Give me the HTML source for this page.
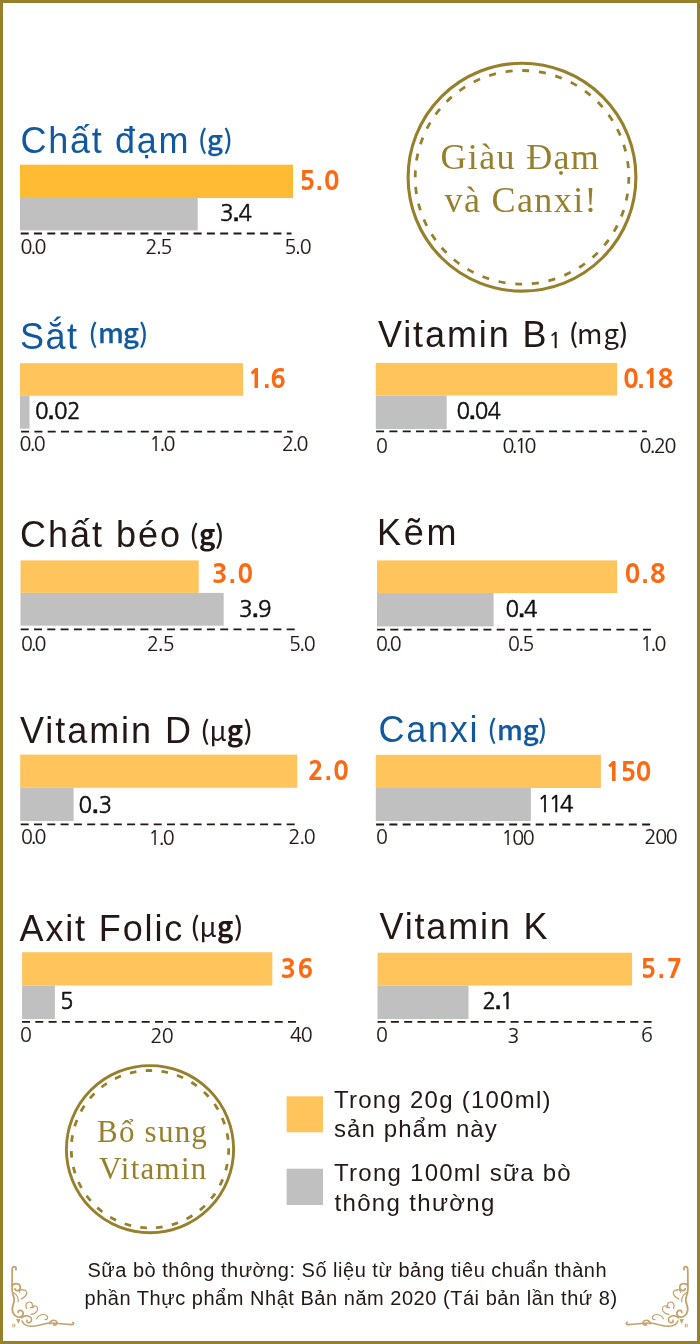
<!DOCTYPE html>
<html lang="vi"><head><meta charset="utf-8"><title>Thành phần dinh dưỡng</title>
<style>
html,body{margin:0;padding:0;background:#fff;}
body{width:700px;height:1344px;overflow:hidden;position:relative;}
svg{position:absolute;left:0;top:0;display:block;will-change:transform;}
</style></head>
<body>
<svg width="700" height="1344" viewBox="0 0 700 1344">
<rect x="1.5" y="1.5" width="697" height="1341" fill="#fff" stroke="#96802c" stroke-width="3"/>
<circle cx="522" cy="177.2" r="113.9" fill="none" stroke="#96802c" stroke-width="3.1"/>
<circle cx="522" cy="177.3" r="106.8" fill="none" stroke="#96802c" stroke-width="2.8" stroke-dasharray="7 9.78" transform="rotate(-0.2 522 177.3)"/>
<circle cx="150" cy="1149.2" r="83.6" fill="none" stroke="#96802c" stroke-width="2.9"/>
<circle cx="150" cy="1149.2" r="78.7" fill="none" stroke="#96802c" stroke-width="2.8" stroke-dasharray="6.6 9.35" transform="rotate(-0.7 150 1149.2)"/>
<rect x="20" y="164.7" width="273" height="33.3" fill="#ffbb33"/>
<rect x="20" y="198" width="177.7" height="32.4" fill="#c0c0c0"/>
<line x1="20.7" y1="233.5" x2="291.5" y2="233.5" stroke="#231815" stroke-width="2" stroke-dasharray="8 5.3"/>
<rect x="20" y="363.2" width="223.1" height="32.6" fill="#ffc55c"/>
<rect x="20" y="395.8" width="9.5" height="32.9" fill="#c0c0c0"/>
<line x1="21.1" y1="431.6" x2="292.8" y2="431.6" stroke="#231815" stroke-width="1.8" stroke-dasharray="8 5.3"/>
<rect x="375.8" y="362.9" width="241.3" height="32.6" fill="#ffc55c"/>
<rect x="375.8" y="395.5" width="70.9" height="33.5" fill="#c0c0c0"/>
<line x1="376.1" y1="431.4" x2="646.8" y2="431.4" stroke="#231815" stroke-width="1.8" stroke-dasharray="8 5.3"/>
<rect x="20.5" y="560.4" width="178.2" height="32.5" fill="#ffc55c"/>
<rect x="20.5" y="592.9" width="203.2" height="32.8" fill="#c0c0c0"/>
<line x1="20.7" y1="629.3" x2="295.7" y2="629.3" stroke="#231815" stroke-width="1.8" stroke-dasharray="8 5.3"/>
<rect x="377" y="560.4" width="240.1" height="32.6" fill="#ffc55c"/>
<rect x="377" y="593" width="116.6" height="33.4" fill="#c0c0c0"/>
<line x1="377" y1="629.6" x2="652.8" y2="629.6" stroke="#231815" stroke-width="1.8" stroke-dasharray="8 5.3"/>
<rect x="20.2" y="754.6" width="277" height="33.2" fill="#ffc55c"/>
<rect x="20.2" y="787.8" width="53.4" height="33.2" fill="#c0c0c0"/>
<line x1="20.7" y1="824.4" x2="295.7" y2="824.4" stroke="#231815" stroke-width="1.8" stroke-dasharray="8 5.3"/>
<rect x="375.8" y="754.8" width="225.1" height="33.2" fill="#ffc55c"/>
<rect x="375.8" y="788" width="155.1" height="33" fill="#c0c0c0"/>
<line x1="376.1" y1="824.5" x2="651" y2="824.5" stroke="#231815" stroke-width="1.8" stroke-dasharray="8 5.3"/>
<rect x="22.1" y="952.2" width="250.2" height="33.3" fill="#ffc55c"/>
<rect x="22.1" y="985.5" width="32.8" height="33.5" fill="#c0c0c0"/>
<line x1="22" y1="1021.9" x2="297.8" y2="1021.9" stroke="#231815" stroke-width="1.8" stroke-dasharray="8 5.3"/>
<rect x="377.5" y="952.7" width="254.6" height="32.8" fill="#ffc55c"/>
<rect x="377.5" y="985.5" width="91" height="33.5" fill="#c0c0c0"/>
<line x1="377.6" y1="1021.9" x2="652.8" y2="1021.9" stroke="#231815" stroke-width="1.8" stroke-dasharray="8 5.3"/>
<rect x="286.6" y="1096.3" width="36.4" height="36" fill="#ffc55c"/>
<rect x="286.6" y="1168.7" width="36.4" height="36.3" fill="#c0c0c0"/>
<g fill="none" stroke="#c2a36b" stroke-width="1.2" stroke-linecap="round"><path stroke-width="1.8" d="M15.9 1269.6 C16.6 1267.6 15.4 1266.5 13.9 1266.7 C12.5 1266.9 12.2 1268.5 12.2 1270.5 L12.1 1289 C12.1 1294 14.5 1297 14.2 1300.5 C13.9 1304 11.8 1306.5 12.4 1310.5 C13 1315 16.5 1317.5 20 1317 C23 1316.5 24 1313 22.2 1311.2 C20.6 1309.6 18 1310.3 18.2 1312.4"/>
<path stroke-width="1.8" d="M12.3 1285.5 C13.5 1283.5 16 1283.3 18 1283.9 C20.6 1284.8 21 1288.5 19.2 1290 C17.6 1291.3 15.2 1290.6 14.8 1288.8"/>
<path d="M19.6 1292.2 C19.2 1289.8 22 1289 23.4 1290.4 C25.4 1289.6 27.4 1291.5 26.6 1294 C25.8 1296.5 23 1298 21.2 1299"/>
<path d="M13.4 1292.6 C16.4 1294.4 18.6 1297.6 18.2 1301.6"/>
<path d="M26.5 1308.5 C25 1305 26.5 1301.8 29.8 1302 C32.4 1302.2 33 1304.8 32 1306.8 C34 1305 37.6 1305.8 37.6 1309 C37.6 1312 34.5 1314.2 31 1314.3 M30.4 1307.6 L33.4 1307.6"/>
<path stroke-width="1.6" d="M21.5 1318 C23.5 1315.5 27.5 1315.2 30 1316.8 C32.4 1318.4 32 1322 29.4 1322.6 C27.6 1323 26.4 1321.6 27 1320.2"/>
<path stroke-width="1.6" d="M22 1321 C23.5 1324.5 27 1326.2 31 1326.3 C37 1326.4 42 1324 48 1323.2 C56 1322.4 64 1324.8 72.6 1324.6 C74 1324.5 74 1322.6 72.8 1322.4"/>
<path d="M36.5 1318.8 C38.5 1314.6 44.5 1313.2 47 1316 C48.6 1317.8 47 1320 45 1319.4"/>
<path stroke-width="1.6" d="M49.8 1323.8 C49.4 1320.4 54.6 1319 56.6 1321.6 C58 1323.6 55.6 1325.8 53.4 1324.8"/>
<path stroke-width="1" d="M12.9 1324.2 L12.9 1327 M14.7 1324.2 L14.7 1327"/>
<path stroke-width="1.3" d="M17 1319.6 L19.6 1319.8 L18.4 1322.4 Z"/>
</g>
<g fill="none" stroke="#c2a36b" stroke-width="1.2" stroke-linecap="round" transform="translate(700 0) scale(-1 1)"><path stroke-width="1.8" d="M15.9 1269.6 C16.6 1267.6 15.4 1266.5 13.9 1266.7 C12.5 1266.9 12.2 1268.5 12.2 1270.5 L12.1 1289 C12.1 1294 14.5 1297 14.2 1300.5 C13.9 1304 11.8 1306.5 12.4 1310.5 C13 1315 16.5 1317.5 20 1317 C23 1316.5 24 1313 22.2 1311.2 C20.6 1309.6 18 1310.3 18.2 1312.4"/>
<path stroke-width="1.8" d="M12.3 1285.5 C13.5 1283.5 16 1283.3 18 1283.9 C20.6 1284.8 21 1288.5 19.2 1290 C17.6 1291.3 15.2 1290.6 14.8 1288.8"/>
<path d="M19.6 1292.2 C19.2 1289.8 22 1289 23.4 1290.4 C25.4 1289.6 27.4 1291.5 26.6 1294 C25.8 1296.5 23 1298 21.2 1299"/>
<path d="M13.4 1292.6 C16.4 1294.4 18.6 1297.6 18.2 1301.6"/>
<path d="M26.5 1308.5 C25 1305 26.5 1301.8 29.8 1302 C32.4 1302.2 33 1304.8 32 1306.8 C34 1305 37.6 1305.8 37.6 1309 C37.6 1312 34.5 1314.2 31 1314.3 M30.4 1307.6 L33.4 1307.6"/>
<path stroke-width="1.6" d="M21.5 1318 C23.5 1315.5 27.5 1315.2 30 1316.8 C32.4 1318.4 32 1322 29.4 1322.6 C27.6 1323 26.4 1321.6 27 1320.2"/>
<path stroke-width="1.6" d="M22 1321 C23.5 1324.5 27 1326.2 31 1326.3 C37 1326.4 42 1324 48 1323.2 C56 1322.4 64 1324.8 72.6 1324.6 C74 1324.5 74 1322.6 72.8 1322.4"/>
<path d="M36.5 1318.8 C38.5 1314.6 44.5 1313.2 47 1316 C48.6 1317.8 47 1320 45 1319.4"/>
<path stroke-width="1.6" d="M49.8 1323.8 C49.4 1320.4 54.6 1319 56.6 1321.6 C58 1323.6 55.6 1325.8 53.4 1324.8"/>
<path stroke-width="1" d="M12.9 1324.2 L12.9 1327 M14.7 1324.2 L14.7 1327"/>
<path stroke-width="1.3" d="M17 1319.6 L19.6 1319.8 L18.4 1322.4 Z"/>
</g>
<text x="20.5" y="152.7" fill="#11599e" style="font-family:'Liberation Sans', 'Noto Sans CJK JP', sans-serif;font-size:36px;letter-spacing:1.71px;">Chất đạm</text>
<text x="20" y="349.2" fill="#11599e" style="font-family:'Liberation Sans', 'Noto Sans CJK JP', sans-serif;font-size:36px;letter-spacing:1.5px;">Sắt</text>
<text x="378" y="347.4" fill="#231815" style="font-family:'Liberation Sans', 'Noto Sans CJK JP', sans-serif;font-size:36px;letter-spacing:1.88px;">Vitamin B</text>
<text x="20" y="547" fill="#231815" style="font-family:'Liberation Sans', 'Noto Sans CJK JP', sans-serif;font-size:36px;letter-spacing:2px;">Chất béo</text>
<text x="377" y="545" fill="#231815" style="font-family:'Liberation Sans', 'Noto Sans CJK JP', sans-serif;font-size:36px;letter-spacing:2.7px;">Kẽm</text>
<text x="20" y="743.4" fill="#231815" style="font-family:'Liberation Sans', 'Noto Sans CJK JP', sans-serif;font-size:36px;letter-spacing:1.95px;">Vitamin D</text>
<text x="378.5" y="741.6" fill="#11599e" style="font-family:'Liberation Sans', 'Noto Sans CJK JP', sans-serif;font-size:36px;letter-spacing:1.75px;">Canxi</text>
<text x="19.5" y="941" fill="#231815" style="font-family:'Liberation Sans', 'Noto Sans CJK JP', sans-serif;font-size:36px;letter-spacing:1.87px;">Axit Folic</text>
<text x="379.5" y="938.9" fill="#231815" style="font-family:'Liberation Sans', 'Noto Sans CJK JP', sans-serif;font-size:36px;letter-spacing:1.82px;">Vitamin K</text>
<text x="548.5" y="347.5" fill="#231815" style="font-family:'NanumGothic', 'Liberation Sans', sans-serif;font-size:21.4px;stroke:#231815;stroke-width:0.5px;">1</text>
<text x="198" y="148.5" fill="#11599e" style="font-family:'Noto Sans CJK JP', 'Liberation Sans', sans-serif;font-size:25.8px;font-weight:500;">(</text>
<text x="207" y="149.8" fill="#11599e" style="font-family:'Noto Sans CJK JP', 'Liberation Sans', sans-serif;font-size:27.5px;font-weight:500;stroke:#11599e;stroke-width:0.25px;">g</text>
<text x="223.5" y="148.5" fill="#11599e" style="font-family:'Noto Sans CJK JP', 'Liberation Sans', sans-serif;font-size:25.8px;font-weight:500;">)</text>
<text x="88.5" y="343" fill="#11599e" style="font-family:'Noto Sans CJK JP', 'Liberation Sans', sans-serif;font-size:25.8px;font-weight:500;">(</text>
<text x="98" y="343.3" fill="#11599e" style="font-family:'Noto Sans CJK JP', 'Liberation Sans', sans-serif;font-size:27.5px;font-weight:500;letter-spacing:-1px;stroke:#11599e;stroke-width:0.25px;">mg</text>
<text x="139" y="343" fill="#11599e" style="font-family:'Noto Sans CJK JP', 'Liberation Sans', sans-serif;font-size:25.8px;font-weight:500;">)</text>
<text x="569" y="343" fill="#231815" style="font-family:'Noto Sans CJK JP', 'Liberation Sans', sans-serif;font-size:25.8px;font-weight:500;">(</text>
<text x="577" y="343.8" fill="#231815" style="font-family:'Noto Sans CJK JP', 'Liberation Sans', sans-serif;font-size:27.5px;letter-spacing:1px;">mg</text>
<text x="619" y="343" fill="#231815" style="font-family:'Noto Sans CJK JP', 'Liberation Sans', sans-serif;font-size:25.8px;font-weight:500;">)</text>
<text x="189.5" y="543.5" fill="#231815" style="font-family:'Noto Sans CJK JP', 'Liberation Sans', sans-serif;font-size:25.8px;font-weight:500;">(</text>
<text x="199" y="545.3" fill="#231815" style="font-family:'Noto Sans CJK JP', 'Liberation Sans', sans-serif;font-size:27.5px;font-weight:700;">g</text>
<text x="215" y="543.5" fill="#231815" style="font-family:'Noto Sans CJK JP', 'Liberation Sans', sans-serif;font-size:25.8px;font-weight:500;">)</text>
<text x="200.5" y="740" fill="#231815" style="font-family:'Noto Sans CJK JP', 'Liberation Sans', sans-serif;font-size:25.8px;font-weight:500;">(</text>
<text x="209.5" y="740.8" fill="#231815" style="font-family:'Noto Sans CJK JP', 'Liberation Sans', sans-serif;font-size:27.5px;font-weight:700;"><tspan style="font-weight:400">μ</tspan>g</text>
<text x="243.5" y="740" fill="#231815" style="font-family:'Noto Sans CJK JP', 'Liberation Sans', sans-serif;font-size:25.8px;font-weight:500;">)</text>
<text x="487.5" y="739" fill="#11599e" style="font-family:'Noto Sans CJK JP', 'Liberation Sans', sans-serif;font-size:25.8px;font-weight:500;">(</text>
<text x="497" y="739.8" fill="#11599e" style="font-family:'Noto Sans CJK JP', 'Liberation Sans', sans-serif;font-size:27.5px;font-weight:500;letter-spacing:-0.2px;stroke:#11599e;stroke-width:0.25px;">mg</text>
<text x="538" y="739" fill="#11599e" style="font-family:'Noto Sans CJK JP', 'Liberation Sans', sans-serif;font-size:25.8px;font-weight:500;">)</text>
<text x="190.5" y="936" fill="#231815" style="font-family:'Noto Sans CJK JP', 'Liberation Sans', sans-serif;font-size:25.8px;font-weight:500;">(</text>
<text x="199.5" y="937.3" fill="#231815" style="font-family:'Noto Sans CJK JP', 'Liberation Sans', sans-serif;font-size:27.5px;font-weight:700;letter-spacing:0.2px;"><tspan style="font-weight:400">μ</tspan>g</text>
<text x="234" y="936" fill="#231815" style="font-family:'Noto Sans CJK JP', 'Liberation Sans', sans-serif;font-size:25.8px;font-weight:500;">)</text>
<text x="299.5" y="189.5" fill="#fb6a12" style="font-family:'NanumGothic', 'Liberation Sans', sans-serif;font-size:25.6px;font-weight:800;letter-spacing:0.8px;">5<tspan style="font-family:'Liberation Sans', sans-serif;font-weight:700">.</tspan>0</text>
<text x="248" y="388" fill="#fb6a12" style="font-family:'NanumGothic', 'Liberation Sans', sans-serif;font-size:25.6px;font-weight:800;letter-spacing:-0.2px;">1<tspan style="font-family:'Liberation Sans', sans-serif;font-weight:700">.</tspan>6</text>
<text x="623" y="387.5" fill="#fb6a12" style="font-family:'NanumGothic', 'Liberation Sans', sans-serif;font-size:25.6px;font-weight:800;letter-spacing:-1.13px;">0<tspan style="font-family:'Liberation Sans', sans-serif;font-weight:700">.</tspan>18</text>
<text x="212" y="582.5" fill="#fb6a12" style="font-family:'NanumGothic', 'Liberation Sans', sans-serif;font-size:25.6px;font-weight:800;letter-spacing:1.3px;">3<tspan style="font-family:'Liberation Sans', sans-serif;font-weight:700">.</tspan>0</text>
<text x="624.5" y="582.5" fill="#fb6a12" style="font-family:'NanumGothic', 'Liberation Sans', sans-serif;font-size:25.6px;font-weight:800;letter-spacing:1.4px;">0<tspan style="font-family:'Liberation Sans', sans-serif;font-weight:700">.</tspan>8</text>
<text x="308" y="780" fill="#fb6a12" style="font-family:'NanumGothic', 'Liberation Sans', sans-serif;font-size:25.6px;font-weight:800;letter-spacing:1.2px;">2<tspan style="font-family:'Liberation Sans', sans-serif;font-weight:700">.</tspan>0</text>
<text x="605.5" y="780.5" fill="#fb6a12" style="font-family:'NanumGothic', 'Liberation Sans', sans-serif;font-size:25.6px;font-weight:800;letter-spacing:-0.5px;">150</text>
<text x="280.5" y="977.5" fill="#fb6a12" style="font-family:'NanumGothic', 'Liberation Sans', sans-serif;font-size:25.6px;font-weight:800;letter-spacing:1.4px;">36</text>
<text x="640.5" y="977.5" fill="#fb6a12" style="font-family:'NanumGothic', 'Liberation Sans', sans-serif;font-size:25.6px;font-weight:800;letter-spacing:1.8px;">5<tspan style="font-family:'Liberation Sans', sans-serif;font-weight:700">.</tspan>7</text>
<text x="220" y="221" fill="#111111" style="font-family:'NanumGothic', 'Liberation Sans', sans-serif;font-size:22.4px;letter-spacing:-0.6px;stroke:#111111;stroke-width:0.5px;">3<tspan style="font-family:'Liberation Sans', sans-serif;font-weight:700">.</tspan>4</text>
<text x="35" y="419" fill="#111111" style="font-family:'NanumGothic', 'Liberation Sans', sans-serif;font-size:22.4px;letter-spacing:-0.47px;stroke:#111111;stroke-width:0.5px;">0<tspan style="font-family:'Liberation Sans', sans-serif;font-weight:700">.</tspan>02</text>
<text x="456.5" y="419" fill="#111111" style="font-family:'NanumGothic', 'Liberation Sans', sans-serif;font-size:22.4px;letter-spacing:-0.8px;stroke:#111111;stroke-width:0.5px;">0<tspan style="font-family:'Liberation Sans', sans-serif;font-weight:700">.</tspan>04</text>
<text x="239" y="616.5" fill="#111111" style="font-family:'NanumGothic', 'Liberation Sans', sans-serif;font-size:22.4px;letter-spacing:-0.4px;stroke:#111111;stroke-width:0.5px;">3<tspan style="font-family:'Liberation Sans', sans-serif;font-weight:700">.</tspan>9</text>
<text x="505.5" y="616.5" fill="#111111" style="font-family:'NanumGothic', 'Liberation Sans', sans-serif;font-size:22.4px;letter-spacing:-0.7px;stroke:#111111;stroke-width:0.5px;">0<tspan style="font-family:'Liberation Sans', sans-serif;font-weight:700">.</tspan>4</text>
<text x="78.5" y="812.5" fill="#111111" style="font-family:'NanumGothic', 'Liberation Sans', sans-serif;font-size:22.4px;letter-spacing:0.1px;stroke:#111111;stroke-width:0.5px;">0<tspan style="font-family:'Liberation Sans', sans-serif;font-weight:700">.</tspan>3</text>
<text x="537.5" y="811.5" fill="#111111" style="font-family:'NanumGothic', 'Liberation Sans', sans-serif;font-size:22.4px;letter-spacing:-2.3px;stroke:#111111;stroke-width:0.5px;">114</text>
<text x="60" y="1009" fill="#111111" style="font-family:'NanumGothic', 'Liberation Sans', sans-serif;font-size:22.4px;stroke:#111111;stroke-width:0.5px;">5</text>
<text x="482.5" y="1009" fill="#111111" style="font-family:'NanumGothic', 'Liberation Sans', sans-serif;font-size:22.4px;letter-spacing:-1.1px;stroke:#111111;stroke-width:0.5px;">2<tspan style="font-family:'Liberation Sans', sans-serif;font-weight:700">.</tspan>1</text>
<text x="20.5" y="253.5" fill="#231815" style="font-family:'NanumGothic', 'Liberation Sans', sans-serif;font-size:19.6px;letter-spacing:-1.7px;stroke:#231815;stroke-width:0.15px;">0<tspan style="font-family:'Liberation Sans', sans-serif;font-weight:400">.</tspan>0</text>
<text x="145.5" y="253.5" fill="#231815" style="font-family:'NanumGothic', 'Liberation Sans', sans-serif;font-size:19.6px;letter-spacing:-1.2px;stroke:#231815;stroke-width:0.15px;">2<tspan style="font-family:'Liberation Sans', sans-serif;font-weight:400">.</tspan>5</text>
<text x="284.5" y="253.5" fill="#231815" style="font-family:'NanumGothic', 'Liberation Sans', sans-serif;font-size:19.6px;letter-spacing:-1.1px;stroke:#231815;stroke-width:0.15px;">5<tspan style="font-family:'Liberation Sans', sans-serif;font-weight:400">.</tspan>0</text>
<text x="19.5" y="451" fill="#231815" style="font-family:'NanumGothic', 'Liberation Sans', sans-serif;font-size:19.6px;letter-spacing:-1.5px;stroke:#231815;stroke-width:0.15px;">0<tspan style="font-family:'Liberation Sans', sans-serif;font-weight:400">.</tspan>0</text>
<text x="149.5" y="451" fill="#231815" style="font-family:'NanumGothic', 'Liberation Sans', sans-serif;font-size:19.6px;letter-spacing:-1.7px;stroke:#231815;stroke-width:0.15px;">1<tspan style="font-family:'Liberation Sans', sans-serif;font-weight:400">.</tspan>0</text>
<text x="282" y="451" fill="#231815" style="font-family:'NanumGothic', 'Liberation Sans', sans-serif;font-size:19.6px;letter-spacing:-1.4px;stroke:#231815;stroke-width:0.15px;">2<tspan style="font-family:'Liberation Sans', sans-serif;font-weight:400">.</tspan>0</text>
<text x="376" y="452.5" fill="#231815" style="font-family:'NanumGothic', 'Liberation Sans', sans-serif;font-size:19.6px;stroke:#231815;stroke-width:0.15px;">0</text>
<text x="502.5" y="452.5" fill="#231815" style="font-family:'NanumGothic', 'Liberation Sans', sans-serif;font-size:19.6px;letter-spacing:-2.4px;stroke:#231815;stroke-width:0.15px;">0<tspan style="font-family:'Liberation Sans', sans-serif;font-weight:400">.</tspan>10</text>
<text x="639.5" y="452.5" fill="#231815" style="font-family:'NanumGothic', 'Liberation Sans', sans-serif;font-size:19.6px;letter-spacing:-1.4px;stroke:#231815;stroke-width:0.15px;">0<tspan style="font-family:'Liberation Sans', sans-serif;font-weight:400">.</tspan>20</text>
<text x="21" y="650.5" fill="#231815" style="font-family:'NanumGothic', 'Liberation Sans', sans-serif;font-size:19.6px;letter-spacing:-1.9px;stroke:#231815;stroke-width:0.15px;">0<tspan style="font-family:'Liberation Sans', sans-serif;font-weight:400">.</tspan>0</text>
<text x="147" y="650.5" fill="#231815" style="font-family:'NanumGothic', 'Liberation Sans', sans-serif;font-size:19.6px;letter-spacing:-0.8px;stroke:#231815;stroke-width:0.15px;">2<tspan style="font-family:'Liberation Sans', sans-serif;font-weight:400">.</tspan>5</text>
<text x="289" y="650.5" fill="#231815" style="font-family:'NanumGothic', 'Liberation Sans', sans-serif;font-size:19.6px;letter-spacing:-1.3px;stroke:#231815;stroke-width:0.15px;">5<tspan style="font-family:'Liberation Sans', sans-serif;font-weight:400">.</tspan>0</text>
<text x="376" y="650.5" fill="#231815" style="font-family:'NanumGothic', 'Liberation Sans', sans-serif;font-size:19.6px;letter-spacing:-1.8px;stroke:#231815;stroke-width:0.15px;">0<tspan style="font-family:'Liberation Sans', sans-serif;font-weight:400">.</tspan>0</text>
<text x="508" y="650.5" fill="#231815" style="font-family:'NanumGothic', 'Liberation Sans', sans-serif;font-size:19.6px;letter-spacing:-1.4px;stroke:#231815;stroke-width:0.15px;">0<tspan style="font-family:'Liberation Sans', sans-serif;font-weight:400">.</tspan>5</text>
<text x="640.5" y="650.5" fill="#231815" style="font-family:'NanumGothic', 'Liberation Sans', sans-serif;font-size:19.6px;letter-spacing:-1.7px;stroke:#231815;stroke-width:0.15px;">1<tspan style="font-family:'Liberation Sans', sans-serif;font-weight:400">.</tspan>0</text>
<text x="21" y="844" fill="#231815" style="font-family:'NanumGothic', 'Liberation Sans', sans-serif;font-size:19.6px;letter-spacing:-1.9px;stroke:#231815;stroke-width:0.15px;">0<tspan style="font-family:'Liberation Sans', sans-serif;font-weight:400">.</tspan>0</text>
<text x="148.5" y="844.5" fill="#231815" style="font-family:'NanumGothic', 'Liberation Sans', sans-serif;font-size:19.6px;letter-spacing:-1.5px;stroke:#231815;stroke-width:0.15px;">1<tspan style="font-family:'Liberation Sans', sans-serif;font-weight:400">.</tspan>0</text>
<text x="288.5" y="844" fill="#231815" style="font-family:'NanumGothic', 'Liberation Sans', sans-serif;font-size:19.6px;letter-spacing:-1px;stroke:#231815;stroke-width:0.15px;">2<tspan style="font-family:'Liberation Sans', sans-serif;font-weight:400">.</tspan>0</text>
<text x="376" y="844" fill="#231815" style="font-family:'NanumGothic', 'Liberation Sans', sans-serif;font-size:19.6px;stroke:#231815;stroke-width:0.15px;">0</text>
<text x="501.5" y="844.5" fill="#231815" style="font-family:'NanumGothic', 'Liberation Sans', sans-serif;font-size:19.6px;letter-spacing:-1.2px;stroke:#231815;stroke-width:0.15px;">100</text>
<text x="644.5" y="844" fill="#231815" style="font-family:'NanumGothic', 'Liberation Sans', sans-serif;font-size:19.6px;letter-spacing:-1.2px;stroke:#231815;stroke-width:0.15px;">200</text>
<text x="20" y="1042" fill="#231815" style="font-family:'NanumGothic', 'Liberation Sans', sans-serif;font-size:19.6px;stroke:#231815;stroke-width:0.15px;">0</text>
<text x="150.5" y="1042.5" fill="#231815" style="font-family:'NanumGothic', 'Liberation Sans', sans-serif;font-size:19.6px;letter-spacing:-0.6px;stroke:#231815;stroke-width:0.15px;">20</text>
<text x="290" y="1042" fill="#231815" style="font-family:'NanumGothic', 'Liberation Sans', sans-serif;font-size:19.6px;letter-spacing:-1px;stroke:#231815;stroke-width:0.15px;">40</text>
<text x="376" y="1042" fill="#231815" style="font-family:'NanumGothic', 'Liberation Sans', sans-serif;font-size:19.6px;stroke:#231815;stroke-width:0.15px;">0</text>
<text x="507.5" y="1042.5" fill="#231815" style="font-family:'NanumGothic', 'Liberation Sans', sans-serif;font-size:19.6px;stroke:#231815;stroke-width:0.15px;">3</text>
<text x="641" y="1042" fill="#231815" style="font-family:'NanumGothic', 'Liberation Sans', sans-serif;font-size:19.6px;stroke:#231815;stroke-width:0.15px;">6</text>
<text x="440.5" y="169" fill="#96802c" style="font-family:'Liberation Serif', 'Noto Serif CJK SC', serif;font-size:36px;letter-spacing:1.34px;">Giàu Đạm</text>
<text x="444.5" y="211.5" fill="#96802c" style="font-family:'Liberation Serif', 'Noto Serif CJK SC', serif;font-size:36px;letter-spacing:1.38px;">và Canxi!</text>
<text x="97" y="1141.6" fill="#96802c" style="font-family:'Liberation Serif', 'Noto Serif CJK SC', serif;font-size:31px;letter-spacing:1.23px;">Bổ sung</text>
<text x="99" y="1178.6" fill="#96802c" style="font-family:'Liberation Serif', 'Noto Serif CJK SC', serif;font-size:31px;letter-spacing:1.27px;">Vitamin</text>
<text x="334" y="1107.8" fill="#231815" style="font-family:'Liberation Sans', 'Noto Sans CJK JP', sans-serif;font-size:24px;letter-spacing:1.25px;">Trong 20g (100ml)</text>
<text x="334" y="1137" fill="#231815" style="font-family:'Liberation Sans', 'Noto Sans CJK JP', sans-serif;font-size:24px;letter-spacing:1.09px;">sản phẩm này</text>
<text x="334" y="1180.8" fill="#231815" style="font-family:'Liberation Sans', 'Noto Sans CJK JP', sans-serif;font-size:24px;letter-spacing:1.26px;">Trong 100ml sữa bò</text>
<text x="334.5" y="1210.6" fill="#231815" style="font-family:'Liberation Sans', 'Noto Sans CJK JP', sans-serif;font-size:24px;letter-spacing:1.33px;">thông thường</text>
<text x="87.5" y="1276.6" fill="#231815" style="font-family:'Liberation Sans', 'Noto Sans CJK JP', sans-serif;font-size:20px;letter-spacing:0.51px;">Sữa bò thông thường: Số liệu từ bảng tiêu chuẩn thành</text>
<text x="84.5" y="1304.7" fill="#231815" style="font-family:'Liberation Sans', 'Noto Sans CJK JP', sans-serif;font-size:20px;letter-spacing:0.53px;">phần Thực phẩm Nhật Bản năm 2020 (Tái bản lần thứ 8)</text>
</svg>
</body></html>
